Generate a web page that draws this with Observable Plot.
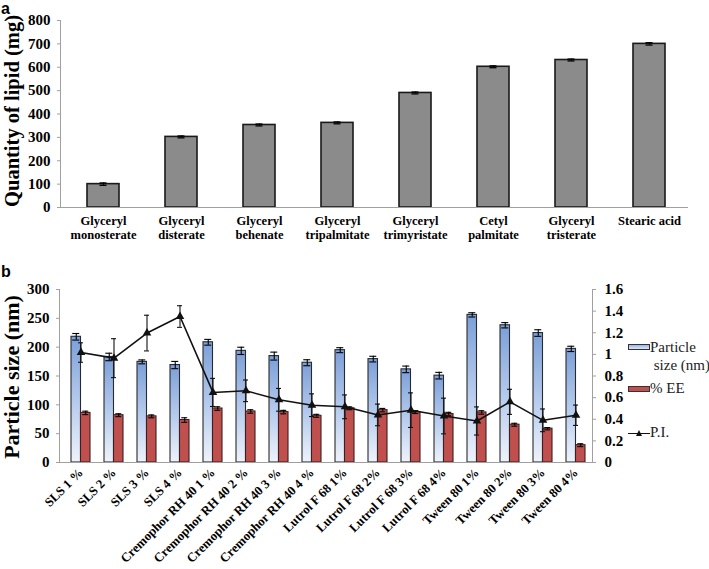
<!DOCTYPE html>
<html><head><meta charset="utf-8">
<script src="https://cdn.jsdelivr.net/npm/d3@7"></script>
<script src="https://cdn.jsdelivr.net/npm/@observablehq/plot@0.6"></script>
<style>
body{margin:0;background:#fff;}
#wrap{position:relative;width:709px;height:569px;overflow:hidden;font-family:"Liberation Serif","Times New Roman",serif;}
.pl{position:absolute;font-family:"Liberation Sans",Arial,sans-serif;font-weight:bold;font-size:16px;line-height:normal;}
#la{left:1px;top:0px}
#lb{left:1px;top:263px}
#panelA{position:absolute;left:0;top:0}
#panelB{position:absolute;left:0;top:250px}
.leg{position:absolute;font-size:15px;color:#222;line-height:18px;white-space:nowrap}
.sw{position:absolute;width:20px;height:4px;border:1px solid #333}
</style></head><body>
<div id="wrap">
<div id="panelA"></div><div id="panelB"></div>
<div class="pl" id="la">a</div><div class="pl" id="lb">b</div>
<div class="sw" style="left:628px;top:344px;background:linear-gradient(#9ab7e4,#dde7f6)"></div>
<div class="leg" style="left:650px;top:338px">Particle<br>&nbsp;size (nm)</div>
<div class="sw" style="left:628px;top:386px;background:#c0504d"></div>
<div class="leg" style="left:650px;top:379px">% EE</div>
<div class="leg" style="left:628px;top:423px"><span style="display:inline-block;position:relative;width:22px;height:10px;vertical-align:middle"><span style="position:absolute;left:0;top:4px;width:22px;height:1.5px;background:#111"></span><span style="position:absolute;left:8px;top:1px;width:0;height:0;border-left:3px solid transparent;border-right:3px solid transparent;border-bottom:6px solid #111"></span></span>P.I.</div>
</div>
<script>
// ---- Panel a data ----
const lipids = ["Glyceryl\nmonosterate","Glyceryl\ndisterate","Glyceryl\nbehenate","Glyceryl\ntripalmitate","Glyceryl\ntrimyristate","Cetyl\npalmitate","Glyceryl\ntristerate","Stearic acid"];
const lipidQty = [100, 302, 353, 362, 490, 602, 631, 700];
const lipidErr = [5, 4, 4, 4, 4, 4, 4, 5];
const lipidTicks = [0,100,200,300,400,500,600,700,800];

// ---- Panel b data ----
const formulations = ["SLS 1 %","SLS 2 %","SLS 3 %","SLS 4 %","Cremophor RH 40 1 %","Cremophor RH 40 2 %","Cremophor RH 40 3 %","Cremophor RH 40 4 %","Lutrol F 68 1%","Lutrol F 68 2%","Lutrol F 68 3%","Lutrol F 68 4%","Tween 80 1%","Tween 80 2%","Tween 80 3%","Tween 80 4%"];
const particleSize = [218, 183, 174.5, 169, 208.5, 193.6, 184.5, 173, 194.8, 179.3, 161.5, 150.6, 256, 238, 224.5, 197];
const particleErr = [5.7, 6.5, 3.4, 6.3, 5, 6.3, 6.9, 5.2, 4.3, 4.9, 5.7, 5.7, 3.7, 4.6, 5.7, 4.6];
const eeValues = [86, 82, 80, 73.6, 93.6, 88.5, 87.4, 81, 94, 90.8, 87.4, 84, 86.8, 65.5, 58.6, 30];
const eeErr = [3, 2.5, 2.5, 4, 3, 3, 3, 2.5, 2.5, 3, 2.5, 3, 3, 2.5, 2, 2.5];
const piValues = [1.017, 0.965, 1.197, 1.35, 0.648, 0.663, 0.58, 0.53, 0.515, 0.44, 0.484, 0.43, 0.384, 0.561, 0.39, 0.437];
const piErr = [0.09, 0.18, 0.165, 0.1, 0.13, 0.1, 0.105, 0.105, 0.11, 0.1, 0.16, 0.165, 0.13, 0.116, 0.105, 0.094];
const leftTicks = [0,50,100,150,200,250,300];
const rightTicks = [0,0.2,0.4,0.6,0.8,1,1.2,1.4,1.6];
const leftMax = 300, rightMax = 1.6;

const serif = "'Liberation Serif', 'Times New Roman', serif";
const k = leftMax / rightMax;

const dataA = lipids.map((name, i) => ({name, q: lipidQty[i], e: lipidErr[i]}));

const A = Plot.plot({
  width: 709, height: 250, marginTop: 20, marginBottom: 43, marginLeft: 60, marginRight: 21,
  style: {fontFamily: serif, background: "white", overflow: "visible", color: "black"},
  x: {domain: lipids, padding: 0, insetLeft: 3, axis: null, label: null},
  y: {domain: [0, 800], axis: null, label: null},
  marks: [
    Plot.barY(dataA, {x: "name", y: "q", fill: "#8b8b8b", stroke: "#1a1a1a", strokeWidth: 1.6, insetLeft: 23, insetRight: 23}),
    Plot.ruleX(dataA, {x: "name", y1: d => d.q - d.e, y2: d => d.q + d.e, stroke: "black", strokeWidth: 1.3}),
    Plot.tickY(dataA, {x: "name", y: d => d.q + d.e, stroke: "black", strokeWidth: 1.3, insetLeft: 35.5, insetRight: 35.5}),
    Plot.tickY(dataA, {x: "name", y: d => d.q - d.e, stroke: "black", strokeWidth: 1.3, insetLeft: 35.5, insetRight: 35.5}),
    Plot.ruleY([0], {stroke: "#a0a0a0"}),
    Plot.frame({anchor: "left", stroke: "#a0a0a0"}),
    Plot.axisY({ticks: lipidTicks, label: null, tickSize: 3, tickPadding: 7, stroke: "#a0a0a0", fill: "black", fontSize: 15, fontWeight: "bold", fontFamily: serif}),
    Plot.axisX({label: null, tickSize: 0, tickPadding: 8, fontSize: 12.5, fontWeight: "bold", fontFamily: serif, lineHeight: 1.08, fill: "black"}),
    Plot.text(["Quantity of lipid (mg)"], {frameAnchor: "left", textAnchor: "middle", dx: -48, dy: -3, rotate: -90, fontSize: 20.5, fontWeight: "bold", fontFamily: serif, fill: "black"})
  ]
});
document.getElementById("panelA").appendChild(A);

const dataB = formulations.map((f, i) => ({
  f, ps: particleSize[i], pse: particleErr[i], ee: eeValues[i], eee: eeErr[i], pi: piValues[i], pie: piErr[i]
}));

const defsMark = () => {
  const defs = d3.create("svg:defs");
  const g = defs.append("linearGradient").attr("id", "blueGrad").attr("x1", 0).attr("y1", 0).attr("x2", 0).attr("y2", 1);
  g.append("stop").attr("offset", "0%").attr("stop-color", "#7b9fd8");
  g.append("stop").attr("offset", "55%").attr("stop-color", "#b9cdee");
  g.append("stop").attr("offset", "100%").attr("stop-color", "#eef3fb");
  return defs.node();
};

const B = Plot.plot({
  width: 709, height: 319, marginTop: 39, marginBottom: 107, marginLeft: 59, marginRight: 117,
  style: {fontFamily: serif, background: "transparent", overflow: "visible", color: "black"},
  x: {domain: formulations, padding: 0, insetLeft: 4.5, axis: null, label: null},
  y: {domain: [0, leftMax], axis: null, label: null},
  marks: [
    defsMark,
    Plot.barY(dataB, {x: "f", y: "ps", fill: "url(#blueGrad)", stroke: "#2a2a2a", strokeWidth: 1.1, insetLeft: 7, insetRight: 16.5}),
    Plot.barY(dataB, {x: "f", y: "ee", fill: "#c0504d", stroke: "#3a2020", strokeWidth: 1.1, insetLeft: 16.5, insetRight: 7}),
    Plot.ruleX(dataB, {x: "f", dx: -4.75, y1: d => d.ps - d.pse, y2: d => d.ps + d.pse, stroke: "black", strokeWidth: 1.1}),
    Plot.tickY(dataB, {x: "f", dx: -4.75, y: d => d.ps + d.pse, stroke: "black", strokeWidth: 1.1, insetLeft: 13, insetRight: 13}),
    Plot.tickY(dataB, {x: "f", dx: -4.75, y: d => d.ps - d.pse, stroke: "black", strokeWidth: 1.1, insetLeft: 13, insetRight: 13}),
    Plot.ruleX(dataB, {x: "f", dx: 4.75, y1: d => d.ee - d.eee, y2: d => d.ee + d.eee, stroke: "black", strokeWidth: 1.1}),
    Plot.tickY(dataB, {x: "f", dx: 4.75, y: d => d.ee + d.eee, stroke: "black", strokeWidth: 1.1, insetLeft: 13.5, insetRight: 13.5}),
    Plot.tickY(dataB, {x: "f", dx: 4.75, y: d => d.ee - d.eee, stroke: "black", strokeWidth: 1.1, insetLeft: 13.5, insetRight: 13.5}),
    Plot.line(dataB, {x: "f", y: d => d.pi * k, stroke: "#111", strokeWidth: 1.6}),
    Plot.ruleX(dataB, {x: "f", y1: d => (d.pi - d.pie) * k, y2: d => (d.pi + d.pie) * k, stroke: "#111", strokeWidth: 1.1}),
    Plot.tickY(dataB, {x: "f", y: d => (d.pi + d.pie) * k, stroke: "#111", strokeWidth: 1.1, insetLeft: 14, insetRight: 14}),
    Plot.tickY(dataB, {x: "f", y: d => (d.pi - d.pie) * k, stroke: "#111", strokeWidth: 1.1, insetLeft: 14, insetRight: 14}),
    Plot.dot(dataB, {x: "f", y: d => d.pi * k, symbol: "triangle", r: 3.2, fill: "#111", stroke: "none"}),
    Plot.ruleY([0], {stroke: "#a0a0a0"}),
    Plot.frame({anchor: "left", stroke: "#a0a0a0"}),
    Plot.frame({anchor: "right", stroke: "#a0a0a0"}),
    Plot.axisY({ticks: leftTicks, label: null, tickSize: 3, tickPadding: 7, stroke: "#a0a0a0", fill: "black", fontSize: 15, fontWeight: "bold", fontFamily: serif}),
    Plot.axisY({anchor: "right", label: null, ticks: rightTicks.map(t => t * k), tickFormat: d => String(+(d / k).toFixed(1)), tickSize: 3, tickPadding: 9, stroke: "#a0a0a0", fill: "black", fontSize: 15, fontWeight: "bold", fontFamily: serif}),
    Plot.axisX({label: null, tickSize: 0, tickPadding: 8, tickRotate: -45, fontSize: 12.8, fontWeight: "bold", fontFamily: serif, fill: "black"}),
    Plot.text(["Particle size (nm)"], {frameAnchor: "left", textAnchor: "middle", dx: -48, dy: 1, rotate: -90, fontSize: 22, fontWeight: "bold", fontFamily: serif, fill: "black"})
  ]
});
document.getElementById("panelB").appendChild(B);
</script>
</body></html>
